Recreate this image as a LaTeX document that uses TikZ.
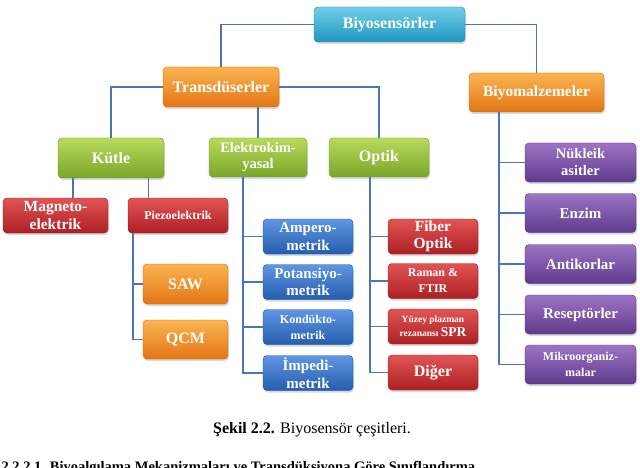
\documentclass[tikz,border=0pt]{standalone}
\usepackage{fontspec}
\setmainfont{Liberation Serif}
\usetikzlibrary{shadows}
\definecolor{cyanT}{RGB}{112,206,234}
\definecolor{cyanB}{RGB}{34,150,190}
\definecolor{orgT}{RGB}{250,180,80}
\definecolor{orgB}{RGB}{228,118,22}
\definecolor{grnT}{RGB}{184,218,92}
\definecolor{grnB}{RGB}{122,166,40}
\definecolor{redT}{RGB}{226,84,84}
\definecolor{redB}{RGB}{172,32,36}
\definecolor{bluT}{RGB}{96,150,226}
\definecolor{bluB}{RGB}{36,94,174}
\definecolor{purT}{RGB}{156,116,196}
\definecolor{purB}{RGB}{96,58,140}
\definecolor{linkblue}{RGB}{74,118,181}
\newcommand{\fsz}[1]{\fontsize{#1}{#1}\selectfont}

\begin{document}
\begin{tikzpicture}[x=1pt, y=-1pt,
  box/.style={rounded corners=4pt, inner sep=0pt, align=center, text=white,
    font=\bfseries, drop shadow={shadow xshift=1pt, shadow yshift=-2pt, opacity=0.3}},
  cyanbox/.style={box, top color=cyanT, bottom color=cyanB, draw=cyanB!85!black},
  orgbox/.style={box, top color=orgT, bottom color=orgB, draw=orgB!85!black},
  grnbox/.style={box, top color=grnT, bottom color=grnB, draw=grnB!85!black},
  redbox/.style={box, top color=redT, bottom color=redB, draw=redB!85!black},
  blubox/.style={box, top color=bluT, bottom color=bluB, draw=bluB!85!black},
  purbox/.style={box, top color=purT, bottom color=purB, draw=purB!85!black},
  leaf/.style={minimum width=90pt, minimum height=35pt},
  purleaf/.style={purbox, minimum width=111pt, minimum height=39pt},
  conn/.style={draw=linkblue, line width=1.4pt}]
  \useasboundingbox (0,0) rectangle (640,468);

  % Top levels
  \node[cyanbox, minimum width=151pt, minimum height=35pt, font=\bfseries\fsz{16}] (bio) at (389.5,24.5) {Biyosensörler};
  \node[orgbox, minimum width=116pt, minimum height=40pt, font=\bfseries\fsz{16}] (trans) at (221,87) {Transdüserler};
  \node[orgbox, minimum width=135pt, minimum height=39pt, font=\bfseries\fsz{15.5}] (biyomalz) at (536.5,92.5) {Biyomalzemeler};

  % Transducer types
  \node[grnbox, minimum width=106pt, minimum height=40pt, font=\bfseries\fsz{16}] (kutle) at (111,158) {Kütle};
  \node[grnbox, minimum width=98pt, minimum height=39pt, font=\bfseries\fontsize{14.5}{16}\selectfont] (elektro) at (258,157.5) {Elektrokim-\\yasal};
  \node[grnbox, minimum width=100pt, minimum height=39pt, font=\bfseries\fsz{16}] (optik) at (379,157.5) {Optik};

  % Mass
  \node[redbox, minimum width=105pt, minimum height=35pt, font=\bfseries\fontsize{15.5}{17.5}\selectfont] (magneto) at (55.5,215.5) {Magneto-\\elektrik};
  \node[redbox, minimum width=100pt, minimum height=35pt, font=\bfseries\fsz{12}] (piezo) at (178,215.5) {Piezoelektrik};
  \node[orgbox, minimum width=85pt, minimum height=40pt, font=\bfseries\fsz{16}] (saw) at (185.5,284) {SAW};
  \node[orgbox, minimum width=85pt, minimum height=39pt, font=\bfseries\fsz{16}] (qcm) at (185.5,339.5) {QCM};

  % Electrochemical
  \node[blubox, leaf, font=\bfseries\fontsize{15}{17.5}\selectfont] (ampero) at (308,236.5) {Ampero-\\metrik};
  \node[blubox, leaf, font=\bfseries\fontsize{15}{17.5}\selectfont] (potans) at (308,282) {Potansiyo-\\metrik};
  \node[blubox, leaf, font=\bfseries\fontsize{12}{16}\selectfont] (kondukto) at (308,327) {Kondükto-\\metrik};
  \node[blubox, leaf, font=\bfseries\fontsize{15}{17.5}\selectfont] (impedi) at (308,373) {İmpedi-\\metrik};

  % Optical
  \node[redbox, leaf, font=\bfseries\fontsize{15.5}{17.5}\selectfont] (fiber) at (433,236.5) {Fiber\\Optik};
  \node[redbox, leaf, font=\bfseries\fontsize{12}{16}\selectfont] (raman) at (433,281) {Raman \&\\FTIR};
  \node[redbox, leaf, font=\bfseries\fontsize{9.5}{14.5}\selectfont] (yuzey) at (433,326.5) {Yüzey plazman\\rezanansı {\fsz{13.5}SPR}};
  \node[redbox, leaf, font=\bfseries\fsz{16}] (diger) at (433,372.5) {Diğer};

  % Biomaterials
  \node[purleaf, font=\bfseries\fontsize{14.5}{17}\selectfont] (nukleik) at (580.5,162.5) {Nükleik\\asitler};
  \node[purleaf, font=\bfseries\fsz{15}] (enzim) at (580.5,213) {Enzim};
  \node[purleaf, font=\bfseries\fsz{15}] (antikor) at (580.5,264) {Antikorlar};
  \node[purleaf, font=\bfseries\fsz{15}] (resept) at (580.5,314.5) {Reseptörler};
  \node[purleaf, font=\bfseries\fontsize{12}{16}\selectfont] (mikro) at (580.5,364.5) {Mikroorganiz-\\malar};

  % Connectors
  \draw[conn] (bio.west) -| (trans.north);
  \draw[conn] (bio.east) -| (biyomalz.north);
  \draw[conn] (trans.west) -| (kutle.north);
  \draw[conn] (trans.east) -| (optik.north);
  \draw[conn] (elektro.north |- trans.south) -- (elektro.north);

  \coordinate (k1) at ([xshift=15pt]kutle.south west);
  \coordinate (k2) at ([xshift=-16pt]kutle.south east);
  \draw[conn] (k1) -- (k1 |- magneto.north);
  \draw[conn] (k2) -- (k2 |- piezo.north);

  \coordinate (p0) at ([xshift=5pt]piezo.south west);
  \foreach \n in {saw,qcm} \draw[conn] (p0) |- (\n.west);

  \coordinate (e0) at ([xshift=34pt]elektro.south west);
  \foreach \n in {ampero,potans,kondukto,impedi} \draw[conn] (e0) |- (\n.west);

  \coordinate (o0) at ([xshift=41pt]optik.south west);
  \foreach \n in {fiber,raman,yuzey,diger} \draw[conn] (o0) |- (\n.west);

  \coordinate (b0) at ([xshift=30pt]biyomalz.south west);
  \foreach \n in {nukleik,enzim,antikor,resept,mikro} \draw[conn] (b0) |- (\n.west);

  % Caption
  \node[font=\fsz{16}] (cap) at (312,430) {\textbf{Şekil 2.2.} Biyosensör çeşitleri.};
  \node[font=\bfseries\fsz{14.5}, anchor=base west] (next) at (-2,471) {2.2.2.1. Biyoalgılama Mekanizmaları ve Transdüksiyona Göre Sınıflandırma};
\end{tikzpicture}
\end{document}
